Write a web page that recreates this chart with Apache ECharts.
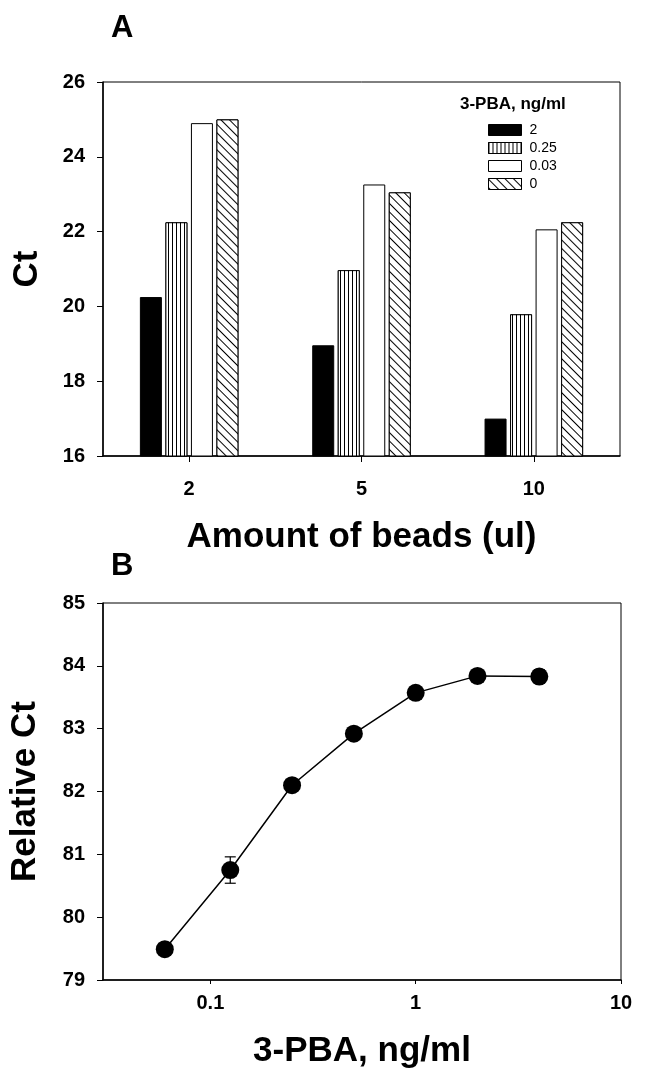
<!DOCTYPE html>
<html>
<head>
<meta charset="utf-8">
<title>Ct vs beads / 3-PBA</title>
<script src="https://cdn.jsdelivr.net/npm/echarts@6/dist/echarts.min.js"></script>
<style>
  html, body { margin: 0; padding: 0; background: #fff; }
  #main { width: 657px; height: 1074px; }
</style>
</head>
<body>
<div id="main"></div>
<script>
// panel A: Ct by amount of beads, one series per 3-PBA level
const beadAmounts = ['2', '5', '10'];
const pbaLevels = ['2', '0.25', '0.03', '0'];
const ct_2 = [20.25, 18.96, 17.0];
const ct_025 = [22.25, 20.97, 19.79];
const ct_003 = [24.9, 23.26, 22.06];
const ct_0 = [25.0, 23.05, 22.25];

// panel B: relative Ct vs 3-PBA concentration
const pbaConc = [0.06, 0.125, 0.25, 0.5, 1, 2, 4];
const relCt = [79.49, 80.75, 82.1, 82.92, 83.57, 83.84, 83.83];
const relCtErr = [0, 0.21, 0, 0, 0, 0, 0.11];

const font = "'Liberation Sans', Arial, sans-serif";
const tickFont = { fontFamily: font, fontSize: 20, fontWeight: 'bold', color: '#000' };
const nameFont = { fontFamily: font, fontSize: 35, fontWeight: 'bold', color: '#000' };
const axisLine = { show: true, lineStyle: { color: '#000', width: 1.5 } };

const vLines = { symbol: 'rect', symbolSize: 1, dashArrayX: [1, 3], dashArrayY: [4, 0], color: '#000', backgroundColor: '#fff' };
const hatch = { symbol: 'rect', symbolSize: 1, dashArrayX: [1, 0], dashArrayY: [1, 5], rotation: Math.PI / 4, color: '#000', backgroundColor: '#fff' };

function barSeries(name, data, style) {
  return {
    name: name,
    type: 'bar',
    xAxisIndex: 0,
    yAxisIndex: 0,
    data: data,
    barWidth: 22,
    barGap: '16%',
    itemStyle: Object.assign({ borderColor: '#000', borderWidth: 1 }, style)
  };
}

const chart = echarts.init(document.getElementById('main'), null, { renderer: 'canvas' });

const option = {
  animation: false,
  backgroundColor: '#fff',
  title: [
    { text: 'A', left: 106, top: 8, textStyle: { fontFamily: font, fontSize: 31, fontWeight: 'bold', color: '#000' } },
    { text: 'B', left: 106, top: 546, textStyle: { fontFamily: font, fontSize: 31, fontWeight: 'bold', color: '#000' } }
  ],
  grid: [
    { left: 103, top: 82, width: 517, height: 374, show: true, borderColor: '#000', borderWidth: 1, backgroundColor: 'transparent' },
    { left: 103, top: 603, width: 518, height: 377, show: true, borderColor: '#000', borderWidth: 1, backgroundColor: 'transparent' }
  ],
  legend: {
    data: pbaLevels,
    orient: 'vertical',
    icon: 'rect',
    left: 488,
    top: 123,
    padding: 0,
    itemWidth: 33,
    itemHeight: 11,
    itemGap: 4,
    selectedMode: false,
    textStyle: { fontFamily: font, fontSize: 14, color: '#000', lineHeight: 14, padding: [0, 0, 0, 3] },
    itemStyle: { borderColor: '#000', borderWidth: 1 }
  },
  graphic: [
    { type: 'text', left: 460, top: 96, style: { text: '3-PBA, ng/ml', fontFamily: font, fontSize: 17, fontWeight: 'bold', fill: '#000' } }
  ],
  xAxis: [
    {
      gridIndex: 0,
      type: 'category',
      data: beadAmounts,
      name: 'Amount of beads (ul)',
      nameLocation: 'middle',
      nameGap: 64,
      nameTextStyle: nameFont,
      axisLine: axisLine,
      axisTick: { show: true, alignWithLabel: true, length: 6, lineStyle: { color: '#000' } },
      axisLabel: Object.assign({ margin: 23 }, tickFont),
      splitLine: { show: false }
    },
    {
      gridIndex: 1,
      type: 'log',
      logBase: 10,
      min: 0.03,
      max: 10,
      name: '3-PBA, ng/ml',
      nameLocation: 'middle',
      nameGap: 54,
      nameTextStyle: nameFont,
      axisLine: axisLine,
      axisTick: { show: true, length: 4, lineStyle: { color: '#000' } },
      minorTick: { show: false },
      axisLabel: Object.assign({
        margin: 13,
        showMinLabel: false,
        formatter: function (v) {
          const l = Math.log10(v);
          return Math.abs(l - Math.round(l)) < 1e-6 ? String(Math.pow(10, Math.round(l))) : '';
        }
      }, tickFont),
      splitLine: { show: false }
    }
  ],
  yAxis: [
    {
      gridIndex: 0,
      type: 'value',
      min: 16,
      max: 26,
      interval: 2,
      name: 'Ct',
      nameLocation: 'middle',
      nameGap: 58,
      nameTextStyle: nameFont,
      axisLine: axisLine,
      axisTick: { show: true, length: 6, lineStyle: { color: '#000' } },
      axisLabel: Object.assign({ margin: 18 }, tickFont),
      splitLine: { show: false }
    },
    {
      gridIndex: 1,
      type: 'value',
      min: 79,
      max: 85,
      interval: 1,
      name: 'Relative Ct',
      nameLocation: 'middle',
      nameGap: 60,
      nameTextStyle: nameFont,
      axisLine: axisLine,
      axisTick: { show: true, length: 6, lineStyle: { color: '#000' } },
      axisLabel: Object.assign({ margin: 18 }, tickFont),
      splitLine: { show: false }
    }
  ],
  series: [
    barSeries('2', ct_2, { color: '#000' }),
    barSeries('0.25', ct_025, { color: '#fff', decal: vLines }),
    barSeries('0.03', ct_003, { color: '#fff' }),
    barSeries('0', ct_0, { color: '#fff', decal: hatch }),
    {
      name: 'err',
      type: 'custom',
      xAxisIndex: 1,
      yAxisIndex: 1,
      z: 1,
      data: pbaConc.map((x, i) => [x, relCt[i], relCtErr[i]]),
      renderItem: function (params, api) {
        const e = api.value(2);
        if (!e) return null;
        const x = api.value(0), y = api.value(1);
        const top = api.coord([x, y + e]);
        const bot = api.coord([x, y - e]);
        const s = { stroke: '#000', lineWidth: 1.2 };
        return {
          type: 'group',
          children: [
            { type: 'line', shape: { x1: top[0], y1: top[1], x2: bot[0], y2: bot[1] }, style: s },
            { type: 'line', shape: { x1: top[0] - 5.5, y1: top[1], x2: top[0] + 5.5, y2: top[1] }, style: s },
            { type: 'line', shape: { x1: bot[0] - 5.5, y1: bot[1], x2: bot[0] + 5.5, y2: bot[1] }, style: s }
          ]
        };
      }
    },
    {
      name: 'Relative Ct',
      type: 'line',
      xAxisIndex: 1,
      yAxisIndex: 1,
      z: 3,
      data: pbaConc.map((x, i) => [x, relCt[i]]),
      symbol: 'circle',
      symbolSize: 18,
      itemStyle: { color: '#000' },
      lineStyle: { color: '#000', width: 1.5 }
    }
  ]
};

chart.setOption(option);
</script>
</body>
</html>
